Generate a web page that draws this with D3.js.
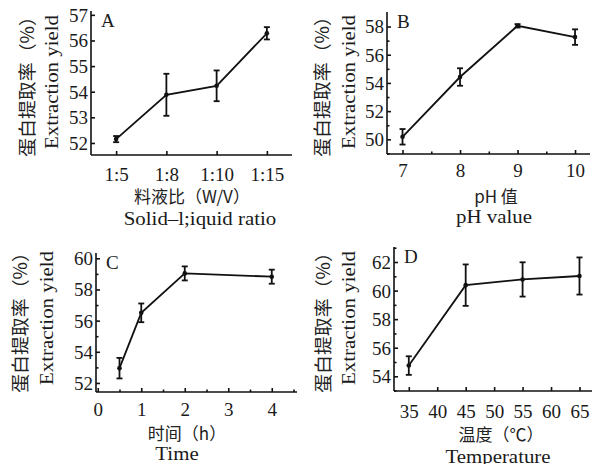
<!DOCTYPE html>
<html>
<head>
<meta charset="utf-8">
<script src="https://cdn.jsdelivr.net/npm/d3@7/dist/d3.min.js"></script>
<style>
body { margin: 0; background: #fff; }
text { font-family: "Liberation Serif", "DejaVu Serif", serif; fill: #1a1a1a; }
.cn { font-family: "Noto Sans CJK SC", sans-serif; fill: #222; }
</style>
</head>
<body>
<svg id="chart" width="592" height="464"></svg>
<script>
// A: solid-liquid ratio
var ratioLabels = ["1:5", "1:8", "1:10", "1:15"];
var ratioYield = [52.15, 53.88, 54.23, 56.28];
var ratioErr = [0.12, 0.82, 0.6, 0.24];

// B: pH
var phValues = [7, 8, 9, 10];
var phYield = [50.18, 54.42, 58.05, 57.25];
var phErr = [0.55, 0.62, 0.12, 0.55];

// C: time (h)
var timeValues = [0.5, 1, 2, 4];
var timeYield = [52.95, 56.5, 59.03, 58.82];
var timeErr = [0.66, 0.6, 0.45, 0.45];

// D: temperature
var tempValues = [35, 45, 55, 65];
var tempYield = [54.75, 60.38, 60.78, 61.02];
var tempErr = [0.65, 1.45, 1.2, 1.3];

var yTitleCn = "蛋白提取率（%）";
var yTitleEn = "Extraction yield";

var svg = d3.select("#chart");

function drawPanel(p) {
	var g = svg.append("g");
	var y = d3.scaleLinear().domain(p.yDomain).range([p.bottom, p.top]);
	var x;
	if (p.categories) {
		x = d3.scalePoint().domain(p.categories).range([p.left, p.right]).padding(0.5);
	} else {
		x = d3.scaleLinear().domain(p.xDomain).range([p.left, p.right]);
	}

	// minor ticks first
	if (p.yMinor) {
		g.append("g")
			.attr("transform", "translate(" + p.left + ",0)")
			.call(d3.axisRight(y).tickValues(p.yMinor).tickSize(2.5).tickFormat(""))
			.call(function(a) { a.select(".domain").remove(); });
	}
	if (p.xMinor) {
		g.append("g")
			.attr("transform", "translate(0," + p.bottom + ")")
			.call(d3.axisTop(x).tickValues(p.xMinor).tickSize(2.5).tickFormat(""))
			.call(function(a) { a.select(".domain").remove(); });
	}

	// y axis, ticks pointing inward
	var ya = g.append("g")
		.attr("transform", "translate(" + p.left + ",0)")
		.call(d3.axisRight(y).tickValues(p.yTicks).tickSize(4).tickFormat(d3.format("d")));
	ya.select(".domain").attr("d", "M0," + p.top + "V" + p.bottom);
	ya.selectAll(".tick text")
		.attr("x", -3)
		.attr("text-anchor", "end")
		.attr("dy", "0.34em");

	var xa = g.append("g")
		.attr("transform", "translate(0," + p.bottom + ")")
		.call(d3.axisTop(x).tickSize(4).tickValues(p.xTicks || null).tickFormat(p.categories ? null : d3.format("d")));
	xa.select(".domain").attr("d", "M" + p.left + ",0H" + p.right);
	xa.selectAll(".tick text")
		.attr("y", p.tickLabelY)
		.attr("dy", 0);

	g.selectAll(".domain, .tick line").attr("stroke", "#111").attr("stroke-width", 1.6);
	g.selectAll(".tick text").attr("font-size", 19).attr("fill", "#1a1a1a")
		.attr("font-family", "Liberation Serif");

	var pts = p.xs.map(function(d, i) { return { x: d, y: p.ys[i], e: p.errs[i] }; });

	var line = d3.line().x(function(d) { return x(d.x); }).y(function(d) { return y(d.y); });
	g.append("path").datum(pts)
		.attr("d", line)
		.attr("fill", "none")
		.attr("stroke", "#111")
		.attr("stroke-width", 1.8);

	var eb = g.selectAll(".eb").data(pts).enter().append("g");
	eb.append("line")
		.attr("x1", function(d) { return x(d.x); })
		.attr("x2", function(d) { return x(d.x); })
		.attr("y1", function(d) { return y(d.y + d.e); })
		.attr("y2", function(d) { return y(d.y - d.e); });
	eb.append("line")
		.attr("x1", function(d) { return x(d.x) - 3; })
		.attr("x2", function(d) { return x(d.x) + 3; })
		.attr("y1", function(d) { return y(d.y + d.e); })
		.attr("y2", function(d) { return y(d.y + d.e); });
	eb.append("line")
		.attr("x1", function(d) { return x(d.x) - 3; })
		.attr("x2", function(d) { return x(d.x) + 3; })
		.attr("y1", function(d) { return y(d.y - d.e); })
		.attr("y2", function(d) { return y(d.y - d.e); });
	eb.selectAll("line").attr("stroke", "#111").attr("stroke-width", 1.8);
	eb.append("circle")
		.attr("cx", function(d) { return x(d.x); })
		.attr("cy", function(d) { return y(d.y); })
		.attr("r", 2.3)
		.attr("fill", "#111");

	// panel letter
	g.append("text")
		.attr("x", p.left + 10)
		.attr("y", p.top + 16)
		.attr("font-size", 19)
		.text(p.letter);

	// y titles (english one is drawn a bit wider, like the print font)
	g.append("text")
		.attr("class", "cn")
		.attr("transform", "translate(" + p.yCnX + "," + p.yMid + ") rotate(-90) scale(1.05,1)")
		.attr("text-anchor", "middle")
		.attr("dy", "0.35em")
		.attr("font-size", 18)
		.text(yTitleCn);
	g.append("text")
		.attr("transform", "translate(" + p.yEnX + "," + p.yMid + ") rotate(-90) scale(1.16,1)")
		.attr("text-anchor", "middle")
		.attr("dy", "0.35em")
		.attr("font-size", 18)
		.text(yTitleEn);

	// x titles
	g.append("text")
		.attr("class", "cn")
		.attr("x", p.xCnMid)
		.attr("y", p.xCnY)
		.attr("text-anchor", "middle")
		.attr("font-size", 17)
		.text(p.xTitleCn);
	g.append("text")
		.attr("transform", "translate(" + p.xEnMid + "," + p.xEnY + ") scale(1.16,1)")
		.attr("text-anchor", "middle")
		.attr("font-size", 18)
		.text(p.xTitleEn);
}

drawPanel({
	letter: "A", left: 91, right: 292, top: 11, bottom: 155,
	categories: ratioLabels, xs: ratioLabels, ys: ratioYield, errs: ratioErr,
	yDomain: [51.53, 57.15], yTicks: [52, 53, 54, 55, 56, 57],
	tickLabelY: 26, yCnX: 28, yEnX: 52, yMid: 82,
	xTitleCn: "料液比（W/V）", xTitleEn: "Solid–l;iquid ratio",
	xCnMid: 192, xCnY: 203, xEnMid: 200, xEnY: 225
});

drawPanel({
	letter: "B", left: 387, right: 590, top: 12, bottom: 154,
	xDomain: [6.73, 10.26], xTicks: phValues, xMinor: [7.5, 8.5, 9.5],
	xs: phValues, ys: phYield, errs: phErr,
	yDomain: [48.96, 59.03], yTicks: [50, 52, 54, 56, 58], yMinor: [49, 51, 53, 55, 57],
	tickLabelY: 23, yCnX: 323, yEnX: 349, yMid: 82,
	xTitleCn: "pH 值", xTitleEn: "pH value",
	xCnMid: 496, xCnY: 203, xEnMid: 494, xEnY: 223
});

drawPanel({
	letter: "C", left: 96, right: 297, top: 253, bottom: 392,
	xDomain: [-0.04, 4.58], xTicks: [0, 1, 2, 3, 4], xMinor: [0.5, 1.5, 2.5, 3.5, 4.5],
	xs: timeValues, ys: timeYield, errs: timeErr,
	yDomain: [51.42, 60.34], yTicks: [52, 54, 56, 58, 60], yMinor: [53, 55, 57, 59],
	tickLabelY: 24, yCnX: 21, yEnX: 47, yMid: 318,
	xTitleCn: "时间（h）", xTitleEn: "Time",
	xCnMid: 187, xCnY: 440, xEnMid: 177, xEnY: 460
});

drawPanel({
	letter: "D", left: 394, right: 592, top: 247, bottom: 391,
	xDomain: [32.4, 67.2], xTicks: [35, 40, 45, 50, 55, 60, 65],
	xs: tempValues, ys: tempYield, errs: tempErr,
	yDomain: [52.97, 63.05], yTicks: [54, 56, 58, 60, 62], yMinor: [53, 55, 57, 59, 61, 63],
	tickLabelY: 27, yCnX: 324, yEnX: 349, yMid: 318,
	xTitleCn: "温度（℃）", xTitleEn: "Temperature",
	xCnMid: 501, xCnY: 441, xEnMid: 498, xEnY: 463
});
</script>
</body>
</html>
